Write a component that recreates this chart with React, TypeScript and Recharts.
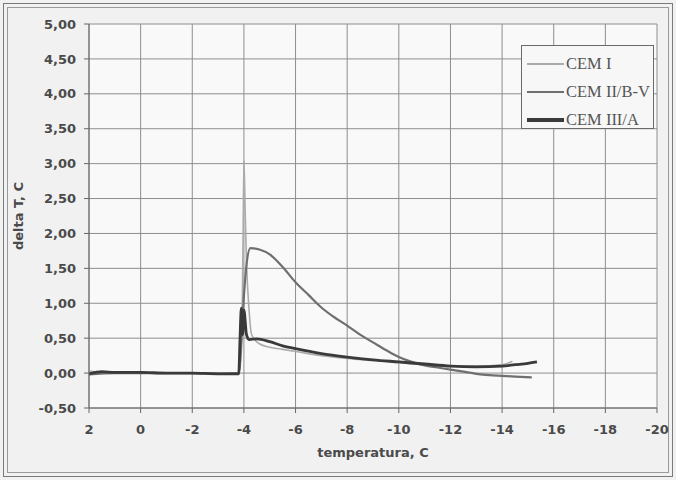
import React from 'react';
import { Legend, Line, LineChart, ReferenceArea, ReferenceLine, XAxis, YAxis } from 'recharts';

const X_TICKS = [2, 0, -2, -4, -6, -8, -10, -12, -14, -16, -18, -20];
const Y_TICKS = [-0.5, 0, 0.5, 1, 1.5, 2, 2.5, 3, 3.5, 4, 4.5, 5];

const CEM1_T = [2, 1.5, 1, 0, -1, -2, -3, -3.8, -3.9, -3.97, -4.0, -4.05, -4.1, -4.2, -4.3, -4.6, -5.0, -5.5, -6, -7, -8, -9, -10, -11, -12, -13, -14, -14.4];
const CEM1_DT = [0.03, 0.01, 0.02, 0.01, 0.0, 0.0, 0.0, 0.0, 0.3, 2.0, 3.05, 2.3, 1.6, 0.9, 0.55, 0.42, 0.37, 0.34, 0.31, 0.25, 0.21, 0.18, 0.15, 0.12, 0.1, 0.1, 0.12, 0.17];

const CEM2_T = [2, 1, 0, -1, -2, -3, -3.8, -3.9, -4.0, -4.1, -4.25, -4.6, -5.0, -5.5, -6, -6.5, -7, -7.5, -8, -8.5, -9, -9.5, -10, -10.5, -11, -11.5, -12, -12.5, -13, -13.5, -14, -14.5, -15.15];
const CEM2_DT = [-0.02, 0.0, 0.0, 0.0, 0.0, -0.01, 0.0, 0.45, 1.1, 1.55, 1.79, 1.77, 1.7, 1.52, 1.3, 1.12, 0.94, 0.8, 0.68, 0.55, 0.44, 0.33, 0.23, 0.16, 0.11, 0.08, 0.05, 0.02, -0.01, -0.03, -0.04, -0.05, -0.06];

const CEM3_T = [2, 1.5, 1, 0, -1, -2, -3, -3.8, -3.85, -3.9, -3.95, -4.0, -4.1, -4.2, -4.5, -5.0, -5.5, -6, -7, -8, -9, -10, -11, -12, -13, -14, -14.5, -15, -15.35];
const CEM3_DT = [-0.01, 0.02, 0.01, 0.01, 0.0, 0.0, -0.01, -0.01, 0.5, 0.93, 0.55, 0.9, 0.55, 0.48, 0.49, 0.45, 0.39, 0.35, 0.28, 0.23, 0.19, 0.16, 0.13, 0.1, 0.09, 0.1, 0.12, 0.14, 0.16];

const toPoints = (ts: number[], vs: number[]) => ts.map((t, i) => ({ t, dt: vs[i] }));

const SERIES = [
  { name: 'CEM I', color: '#ababab', width: 1.6, data: toPoints(CEM1_T, CEM1_DT) },
  { name: 'CEM II/B-V', color: '#6f6f6f', width: 2.2, data: toPoints(CEM2_T, CEM2_DT) },
  { name: 'CEM III/A', color: '#3a3a3a', width: 2.8, data: toPoints(CEM3_T, CEM3_DT) },
];

const fmt = (v: number) => v.toFixed(2).replace('.', ',');

const tickStyle = { fontFamily: 'DejaVu Sans', fontWeight: 'bold', fontSize: 13, fill: '#4a4a4a' };
const GRID = '#8e8e8e';

function LegendBox() {
  return (
    <div
      style={{
        width: 133,
        height: 84,
        border: '1px solid #6a6a6a',
        background: '#f7f7f7',
        fontFamily: '"Liberation Serif", serif',
        fontSize: 16.5,
        color: '#555',
        boxSizing: 'border-box',
        paddingTop: 4,
      }}
    >
      {SERIES.map((s) => (
        <div key={s.name} style={{ display: 'flex', alignItems: 'center', height: 28 }}>
          <span style={{ display: 'inline-block', width: 37, height: s.width + 0.5, background: s.color, marginLeft: 5, marginRight: 2 }} />
          <span>{s.name}</span>
        </div>
      ))}
    </div>
  );
}

export default function App() {
  return (
    <div style={{ position: 'fixed', left: 0, top: 0, width: 676, height: 480, background: '#f1f1f1' }}>
      <div style={{ position: 'absolute', left: 3, top: 3, width: 668, height: 472, border: '1px solid #7a7a7a' }} />
      <div style={{ position: 'absolute', left: 7, top: 7, width: 660, height: 464, border: '1px solid #9a9a9a' }} />
      <div style={{ position: 'absolute', left: 0, top: 0 }}>
        <LineChart
          width={676}
          height={480}
          data={SERIES[1].data}
          margin={{ top: 24, right: 19, bottom: 17, left: 27 }}
        >
          <XAxis
            type="number"
            dataKey="t"
            domain={[-20, 2]}
            reversed
            ticks={X_TICKS}
            allowDuplicatedCategory={false}
            height={55}
            tick={tickStyle}
            tickSize={5}
            tickMargin={12}
            stroke="#666"
            label={{
              value: 'temperatura, C',
              position: 'insideBottom',
              offset: 6,
              style: { fontFamily: 'DejaVu Sans', fontWeight: 'bold', fontSize: 13, fill: '#4a4a4a' },
            }}
          />
          <YAxis
            type="number"
            domain={[-0.5, 5]}
            ticks={Y_TICKS}
            tickFormatter={fmt}
            width={62}
            tick={tickStyle}
            tickSize={5}
            tickMargin={8}
            stroke="#666"
            label={{
              value: 'delta T, C',
              angle: -90,
              position: 'insideLeft',
              offset: -9,
              style: { textAnchor: 'middle', fontFamily: 'DejaVu Sans', fontWeight: 'bold', fontSize: 13, fill: '#4a4a4a' },
            }}
          />
          <ReferenceArea x1={2} x2={-20} y1={-0.5} y2={5} fill="#f9f9f9" fillOpacity={1} stroke="none" zIndex={-60} />
          {/* grid drawn as reference lines at every tick */}
          {Y_TICKS.map((v) => (
            <ReferenceLine key={`h${v}`} y={v} stroke={GRID} strokeWidth={1} zIndex={-50} />
          ))}
          {X_TICKS.map((v) => (
            <ReferenceLine key={`v${v}`} x={v} stroke={GRID} strokeWidth={1} zIndex={-50} />
          ))}
          <Legend
            layout="horizontal"
            verticalAlign="middle"
            align="center"
            content={() => <LegendBox />}
            wrapperStyle={{ left: 521, top: 45, width: 133, height: 84 }}
          />
          {SERIES.map((s) => (
            <Line
              key={s.name}
              name={s.name}
              data={s.data}
              dataKey="dt"
              type="monotone"
              stroke={s.color}
              strokeWidth={s.width}
              dot={false}
              activeDot={false}
              isAnimationActive={false}
            />
          ))}
        </LineChart>
      </div>
    </div>
  );
}
